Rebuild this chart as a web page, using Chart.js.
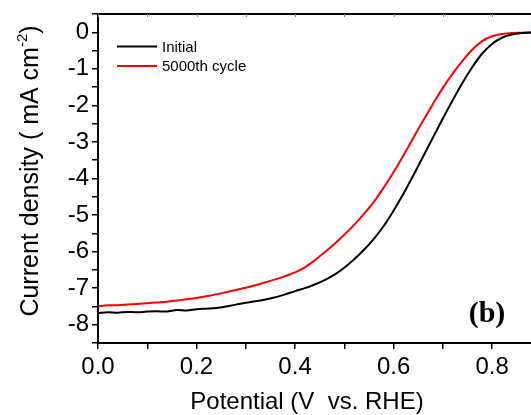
<!DOCTYPE html>
<html>
<head>
<meta charset="utf-8">
<script src="https://cdn.jsdelivr.net/npm/chart.js@4"></script>
<style>
  html, body { margin: 0; padding: 0; background: #fff; overflow: hidden; }
  #wrap { width: 531px; height: 415px; position: relative; }
</style>
</head>
<body>
<div id="wrap"><canvas id="c" width="531" height="415"></canvas></div>
<script>
const potential = [0.00,0.02,0.04,0.06,0.08,0.10,0.12,0.14,0.16,0.18,0.20,0.22,0.24,0.26,0.28,0.30,0.32,0.34,0.36,0.38,0.40,0.42,0.44,0.46,0.48,0.50,0.52,0.54,0.56,0.58,0.60,0.62,0.64,0.66,0.68,0.70,0.72,0.74,0.76,0.78,0.80,0.82,0.84,0.86,0.88];
const initialCurrent = [-7.68,-7.66,-7.67,-7.65,-7.66,-7.64,-7.63,-7.64,-7.60,-7.61,-7.58,-7.56,-7.54,-7.50,-7.45,-7.40,-7.36,-7.31,-7.25,-7.17,-7.08,-7.00,-6.90,-6.78,-6.63,-6.44,-6.21,-5.95,-5.65,-5.30,-4.88,-4.42,-3.92,-3.40,-2.88,-2.36,-1.86,-1.38,-0.95,-0.58,-0.32,-0.15,-0.06,-0.02,-0.01];
const cycledCurrent = [-7.50,-7.47,-7.47,-7.45,-7.43,-7.41,-7.39,-7.37,-7.34,-7.30,-7.27,-7.22,-7.17,-7.11,-7.05,-6.99,-6.92,-6.84,-6.76,-6.67,-6.57,-6.43,-6.24,-6.02,-5.79,-5.54,-5.27,-4.97,-4.64,-4.25,-3.83,-3.37,-2.89,-2.42,-1.96,-1.52,-1.13,-0.78,-0.47,-0.24,-0.11,-0.05,-0.02,-0.01,0.00];
const seriesLabels = ['Initial', '5000th cycle'];
const seriesColors = ['#000000', '#ff0000'];
const xTickValues = [0.0,0.1,0.2,0.3,0.4,0.5,0.6,0.7,0.8];
const yTickValues = [0.5,0,-0.5,-1,-1.5,-2,-2.5,-3,-3.5,-4,-4.5,-5,-5.5,-6,-6.5,-7,-7.5,-8,-8.5];
const xTitle = 'Potential (V  vs. RHE)';
const yTitleMain = 'Current density ( mA cm';
const yTitleSup = '-2';
const yTitleEnd = ')';
const panelLabel = '(b)';

const FONT = '"Liberation Sans", Arial, sans-serif';

const toPts = (ys) => potential.map((x, i) => ({x: x, y: ys[i]}));

const decor = {
  id: 'decor',
  afterDraw(chart) {
    const ctx = chart.ctx;
    const a = chart.chartArea;
    const xs = chart.scales.x;
    ctx.save();
    // top border with small inward ticks
    ctx.strokeStyle = '#000';
    ctx.lineWidth = 2;
    ctx.beginPath();
    ctx.moveTo(a.left - 1, a.top);
    ctx.lineTo(a.right, a.top);
    ctx.stroke();
    ctx.lineWidth = 1;
    ctx.strokeStyle = '#888';
    xTickValues.forEach(v => {
      const px = Math.round(xs.getPixelForValue(v)) + 0.5;
      ctx.beginPath();
      ctx.moveTo(px, a.top);
      ctx.lineTo(px, a.top + 3);
      ctx.stroke();
    });
    // legend
    const ds = chart.data.datasets;
    ctx.font = '15px ' + FONT;
    ctx.textBaseline = 'middle';
    ctx.textAlign = 'left';
    const ly = [46.5, 66];
    ds.forEach((d, i) => {
      ctx.strokeStyle = d.borderColor;
      ctx.lineWidth = 2;
      ctx.beginPath();
      ctx.moveTo(117, ly[i]);
      ctx.lineTo(157, ly[i]);
      ctx.stroke();
      ctx.fillStyle = '#000';
      ctx.fillText(d.label, 162, ly[i] + 1);
    });
    // panel label
    ctx.font = 'bold 30px "Liberation Serif", "Times New Roman", serif';
    ctx.textAlign = 'center';
    ctx.textBaseline = 'middle';
    ctx.fillText(panelLabel, 487, 314);
    // x title
    ctx.font = '24px ' + FONT;
    ctx.textAlign = 'center';
    ctx.textBaseline = 'alphabetic';
    ctx.fillText(xTitle, 307, 409);
    // y title (rotated) with superscript
    ctx.translate(38, 171);
    ctx.rotate(-Math.PI / 2);
    ctx.font = '25px ' + FONT;
    const w1 = ctx.measureText(yTitleMain).width;
    ctx.font = '15px ' + FONT;
    const w2 = ctx.measureText(yTitleSup).width;
    ctx.font = '25px ' + FONT;
    const w3 = ctx.measureText(yTitleEnd).width;
    const total = w1 + w2 + w3;
    let x0 = -total / 2;
    ctx.textAlign = 'left';
    ctx.fillText(yTitleMain, x0, 0);
    ctx.font = '15px ' + FONT;
    ctx.fillText(yTitleSup, x0 + w1, -11);
    ctx.font = '25px ' + FONT;
    ctx.fillText(yTitleEnd, x0 + w1 + w2, 0);
    ctx.restore();
  }
};

new Chart(document.getElementById('c'), {
  type: 'line',
  data: {
    datasets: [
      { label: seriesLabels[0], data: toPts(initialCurrent), borderColor: seriesColors[0], borderWidth: 2, pointRadius: 0, tension: 0.3, fill: false },
      { label: seriesLabels[1], data: toPts(cycledCurrent), borderColor: seriesColors[1], borderWidth: 2, pointRadius: 0, tension: 0.3, fill: false }
    ]
  },
  options: {
    responsive: false,
    animation: false,
    devicePixelRatio: 1,
    layout: { padding: { top: 14, right: 0, left: 0, bottom: 0 } },
    plugins: { legend: { display: false }, tooltip: { enabled: false } },
    scales: {
      x: {
        type: 'linear',
        min: 0,
        max: 0.879,
        afterBuildTicks: (s) => { s.ticks = xTickValues.map(v => ({value: v})); },
        afterFit: (s) => { s.height = 72; s.paddingLeft = 0; s.paddingRight = 0; },
        ticks: {
          autoSkip: false,
          maxRotation: 0,
          padding: 4,
          color: '#000',
          font: { size: 24, family: FONT },
          callback: (v) => (Math.round(v * 10) % 2 === 0 ? v.toFixed(1) : '')
        },
        grid: { display: true, drawOnChartArea: false, drawTicks: true, tickLength: 6, color: '#000', lineWidth: 1.5 },
        border: { display: true, color: '#000', width: 2 }
      },
      y: {
        type: 'linear',
        min: -8.5,
        max: 0.5,
        afterBuildTicks: (s) => { s.ticks = yTickValues.map(v => ({value: v})); },
        afterFit: (s) => { s.width = 98; s.paddingTop = 0; s.paddingBottom = 0; },
        ticks: {
          autoSkip: false,
          padding: 3,
          color: '#000',
          font: { size: 24, family: FONT },
          callback: (v) => (Number.isInteger(v) ? String(v) : '')
        },
        grid: { display: true, drawOnChartArea: false, drawTicks: true, tickLength: 6, color: '#000', lineWidth: 1.5 },
        border: { display: true, color: '#000', width: 2 }
      }
    }
  },
  plugins: [decor]
});
</script>
</body>
</html>
